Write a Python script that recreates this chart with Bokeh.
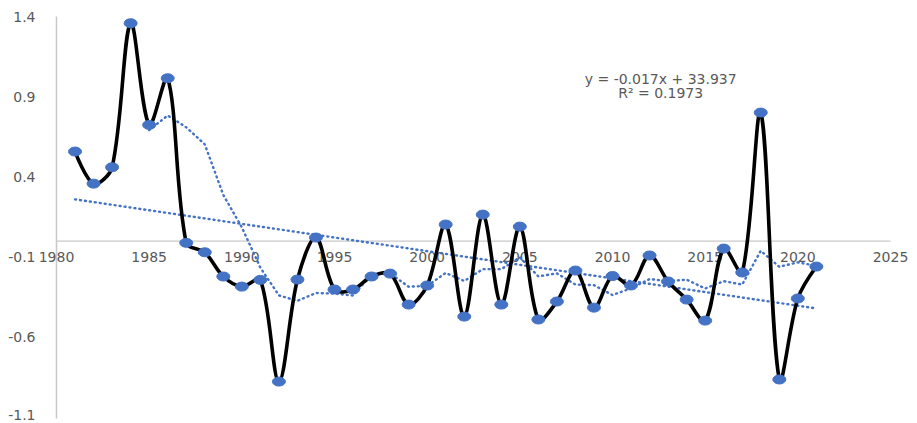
import numpy as np
import pandas as pd
from bokeh.plotting import figure
from bokeh.models import ColumnDataSource
from bokeh.core.properties import value
from bokeh.embed import file_html
from bokeh.resources import INLINE

# Annual series
years = list(range(1981, 2022))
values = [0.558, 0.358, 0.46, 1.358, 0.724, 1.015, -0.011, -0.07, -0.221, -0.284,
          -0.242, -0.876, -0.24, 0.022, -0.302, -0.302, -0.221, -0.203, -0.396, -0.277,
          0.103, -0.471, 0.165, -0.396, 0.09, -0.489, -0.377, -0.184, -0.415, -0.218,
          -0.277, -0.09, -0.252, -0.365, -0.496, -0.047, -0.196, 0.801, -0.863, -0.358,
          -0.159]

# Linear trend as printed on the chart
trend_slope = -0.017
trend_intercept = 33.937
trend_r2 = 0.1973
ma_period = 5

x_ticks = [1980, 1985, 1990, 1995, 2000, 2005, 2010, 2015, 2020, 2025]
y_ticks = [-1.1, -0.6, -0.1, 0.4, 0.9, 1.4]

TEXT = "#595959"
BLUE = "#4472C4"
AXIS = "#C8C8C8"
FONT = "DejaVu Sans"
FS = "14px"

W, H = 917, 423
# plotting area inside the canvas (pixels): axes drawn by hand so nothing is clipped
LEFT_PX, RIGHT_PX, TOP_PX, BOTTOM_PX = 56, 890, 16, 417
xlo, xhi = x_ticks[0], x_ticks[-1]
ylo, yhi = y_ticks[0], y_ticks[-1]
sx = (RIGHT_PX - LEFT_PX) / (xhi - xlo)
sy = (BOTTOM_PX - TOP_PX) / (yhi - ylo)

x = np.array(years, dtype=float)
y = np.array(values, dtype=float)

p = figure(width=W, height=H, output_backend="svg", toolbar_location=None,
           x_range=(xlo - LEFT_PX / sx, xhi + (W - RIGHT_PX) / sx),
           y_range=(ylo - (H - BOTTOM_PX) / sy, yhi + TOP_PX / sy),
           min_border=0)
p.outline_line_color = None
p.axis.visible = False
p.grid.visible = False
p.background_fill_color = "white"
p.border_fill_color = "white"

# vertical axis line and its labels
p.line(x=[xlo, xlo], y=[ylo - 0.006, yhi], line_color=AXIS, line_width=1.5)
ysrc = ColumnDataSource(dict(x=[xlo] * len(y_ticks), y=y_ticks,
                             t=[f"{v:.1f}" for v in y_ticks],
                             dy=[-3 if v == ylo else 0 for v in y_ticks]))
p.text(x="x", y="y", text="t", source=ysrc, x_offset=-21, y_offset="dy",
       text_align="right", text_baseline="middle",
       text_font=value(FONT), text_font_size=FS, text_color=TEXT)

# horizontal axis crossing at zero, with year labels beneath
p.line(x=[xlo, xhi], y=[0, 0], line_color=AXIS, line_width=1.2)
xsrc = ColumnDataSource(dict(x=x_ticks, y=[0] * len(x_ticks), t=[str(v) for v in x_ticks]))
p.text(x="x", y="y", text="t", source=xsrc, y_offset=16, text_align="center",
       text_baseline="middle", text_font=value(FONT), text_font_size=FS, text_color=TEXT)

# linear trend line
tx = np.array([years[0], years[-1]], dtype=float)
p.line(x=tx, y=trend_slope * tx + trend_intercept, line_color=BLUE,
       line_width=2.4, line_dash="1 4", line_cap="round")

# moving average
ma = pd.Series(values).rolling(ma_period).mean()
mask = ma.notna().values
p.line(x=x[mask], y=ma.values[mask], line_color=BLUE, line_width=2.4,
       line_dash="1 4", line_cap="round")

# smoothed series line: bezier segments, handles weighted by neighbouring chord lengths
px = x * sx
py = y * sy
tension = 1.0 / 3.0
n = len(x)
hin = np.zeros((n, 2))
hout = np.zeros((n, 2))
for i in range(1, n - 1):
    d01 = np.hypot(px[i] - px[i - 1], py[i] - py[i - 1])
    d12 = np.hypot(px[i + 1] - px[i], py[i + 1] - py[i])
    fa = tension * d01 / (d01 + d12)
    fb = tension * d12 / (d01 + d12)
    dx = x[i + 1] - x[i - 1]
    dy = y[i + 1] - y[i - 1]
    hin[i] = (-fa * dx, -fa * dy)
    hout[i] = (fb * dx, fb * dy)
cx0 = x[:-1] + hout[:-1, 0]
cy0 = y[:-1] + hout[:-1, 1]
cx1 = x[1:] + hin[1:, 0]
cy1 = y[1:] + hin[1:, 1]
p.bezier(x0=x[:-1], y0=y[:-1], x1=x[1:], y1=y[1:], cx0=cx0, cy0=cy0, cx1=cx1, cy1=cy1,
         line_color="black", line_width=3.6, line_cap="round")

# markers
p.ellipse(x=x, y=y, width=13, height=9, width_units="screen", height_units="screen",
          fill_color=BLUE, line_color=BLUE)

# trendline equation
eq_x = 2012.6
p.text(x=[eq_x, eq_x], y=[1.013, 0.92],
       text=[f"y = {trend_slope}x + {trend_intercept}", f"R\u00b2 = {trend_r2}"],
       text_align="center", text_baseline="middle",
       text_font=value(FONT), text_font_size="14px", text_color=TEXT)

open("out.html", "w").write(file_html(p, INLINE))
